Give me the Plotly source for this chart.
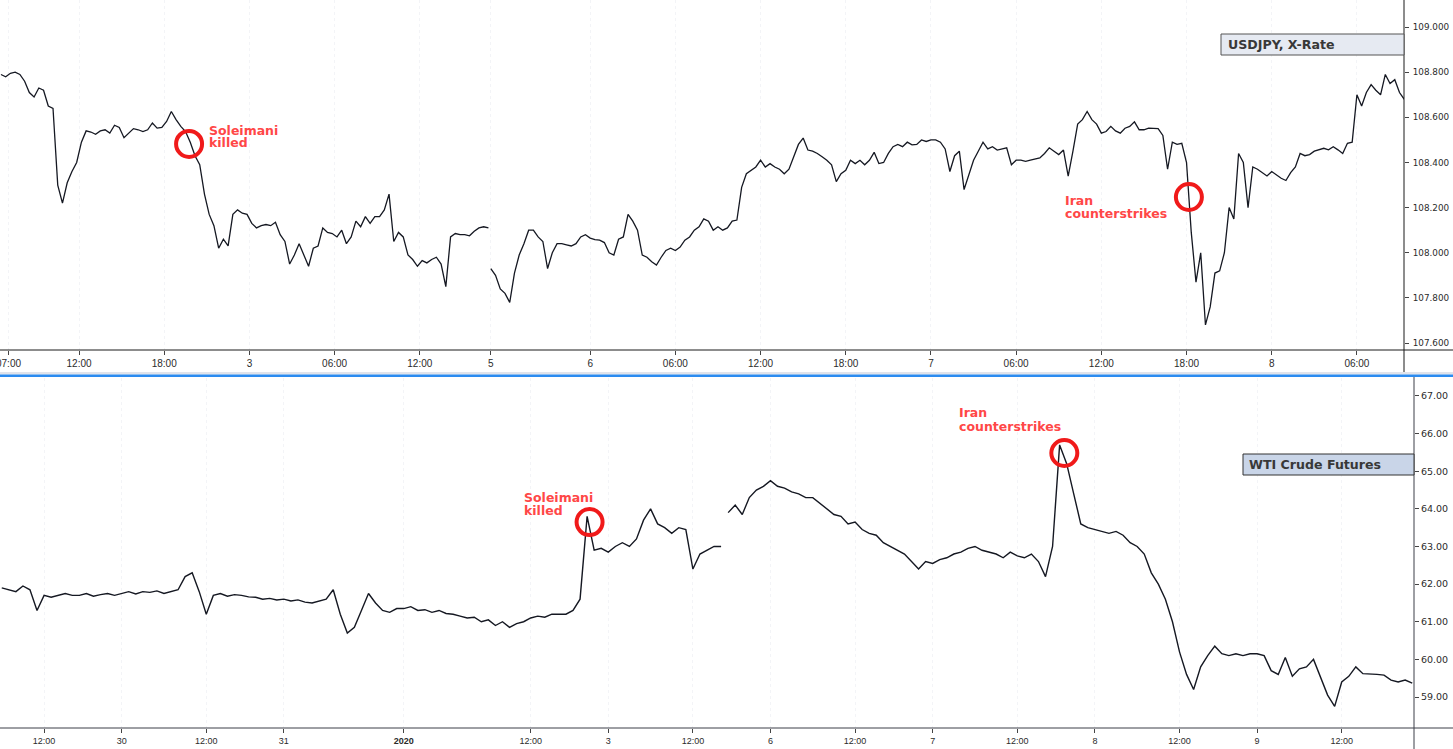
import pandas as pd
import plotly.graph_objects as go

W, H = 1453, 749

# ---------------- USDJPY (20-minute samples) ----------------
usdjpy_a_start = "2020-01-02 06:30"
usdjpy_a = [
    108.79, 108.78, 108.795, 108.80, 108.79, 108.76, 108.71, 108.69, 108.73, 108.72,
    108.65, 108.64, 108.30, 108.22, 108.31, 108.36, 108.40, 108.49, 108.54, 108.535,
    108.525, 108.54, 108.545, 108.53, 108.565, 108.555, 108.51, 108.53, 108.55, 108.545,
    108.537, 108.545, 108.575, 108.552, 108.555, 108.582, 108.626, 108.59, 108.56, 108.537,
    108.49, 108.43, 108.39, 108.26, 108.17, 108.12, 108.02, 108.06, 108.03, 108.17,
    108.19, 108.175, 108.17, 108.13, 108.11, 108.12, 108.125, 108.12, 108.135, 108.08,
    108.05, 107.95, 107.99, 108.04, 107.99, 107.94, 108.02, 108.03, 108.11, 108.09,
    108.085, 108.07, 108.10, 108.04, 108.07, 108.14, 108.115, 108.16, 108.13, 108.16,
    108.16, 108.19, 108.26, 108.05, 108.09, 108.07, 107.99, 107.97, 107.94, 107.965,
    107.955, 107.97, 107.98, 107.95, 107.85, 108.07, 108.085, 108.08, 108.08, 108.075,
    108.095, 108.11, 108.115, 108.11,
]
usdjpy_b_start = "2020-01-05 17:00"
usdjpy_b = [
    107.93, 107.90, 107.84, 107.82, 107.78, 107.91, 107.99, 108.04, 108.10, 108.10,
    108.07, 108.05, 107.93, 108.00, 108.04, 108.04, 108.035, 108.03, 108.04, 108.07,
    108.08, 108.065, 108.058, 108.056, 108.045, 108.00, 107.99, 108.06, 108.07, 108.17,
    108.14, 108.10, 107.99, 107.98, 107.96, 107.945, 107.98, 108.01, 108.02, 108.01,
    108.025, 108.056, 108.07, 108.10, 108.115, 108.15, 108.14, 108.10, 108.115, 108.10,
    108.11, 108.14, 108.145, 108.29, 108.35, 108.365, 108.38, 108.41, 108.38, 108.395,
    108.38, 108.37, 108.35, 108.37, 108.43, 108.48, 108.508, 108.455, 108.45, 108.44,
    108.425, 108.41, 108.39, 108.315, 108.35, 108.365, 108.41, 108.395, 108.41, 108.39,
    108.41, 108.445, 108.395, 108.40, 108.44, 108.47, 108.48, 108.47, 108.49, 108.478,
    108.48, 108.50, 108.493, 108.50, 108.50, 108.49, 108.46, 108.36, 108.43, 108.45,
    108.28, 108.34, 108.41, 108.45, 108.49, 108.46, 108.47, 108.455, 108.46, 108.465,
    108.39, 108.41, 108.41, 108.405, 108.41, 108.415, 108.42, 108.44, 108.465, 108.45,
    108.435, 108.455, 108.34, 108.45, 108.57, 108.59, 108.626, 108.59, 108.57, 108.53,
    108.537, 108.56, 108.54, 108.53, 108.552, 108.56, 108.58, 108.545, 108.545, 108.552,
    108.552, 108.55, 108.52, 108.37, 108.49, 108.48, 108.485, 108.40, 108.09, 107.87,
    108.00, 107.68, 107.76, 107.91, 107.92, 108.00, 108.20, 108.15, 108.44, 108.40,
    108.20, 108.38, 108.37, 108.355, 108.34, 108.36, 108.345, 108.33, 108.32, 108.355,
    108.38, 108.44, 108.43, 108.435, 108.45, 108.456, 108.463, 108.456, 108.47, 108.456,
    108.44, 108.485, 108.49, 108.70, 108.65, 108.71, 108.745, 108.72, 108.70, 108.79,
    108.75, 108.767, 108.71, 108.68,
]

# ---------------- WTI crude (hourly samples per session) ----------------
wti_dec27_start = "2019-12-27 06:00"
wti_dec27 = [61.9, 61.85, 61.8, 61.95, 61.85, 61.3, 61.7, 61.65, 61.7, 61.75, 61.7]
wti_dec30_start = "2019-12-29 18:00"
wti_dec30 = [61.7, 61.75, 61.68, 61.72, 61.75, 61.7, 61.76, 61.8, 61.74, 61.8, 61.78, 61.82,
             61.75, 61.8, 61.85, 62.2, 62.3, 61.8, 61.2, 61.7, 61.75, 61.68, 61.72]
wti_dec31_start = "2019-12-30 18:00"
wti_dec31 = [61.7, 61.66, 61.65, 61.6, 61.62, 61.58, 61.6, 61.55, 61.58, 61.52, 61.5, 61.55,
             61.6, 61.85, 61.2, 60.7, 60.85, 61.3, 61.75, 61.5, 61.3, 61.25, 61.35]
wti_jan2_start = "2020-01-01 18:00"
wti_jan2 = [61.35, 61.4, 61.3, 61.32, 61.25, 61.3, 61.22, 61.2, 61.15, 61.1, 61.12, 61.0,
            61.05, 60.9, 61.0, 60.85, 60.95, 61.0, 61.1, 61.15, 61.12, 61.2, 61.2]
wti_jan3_start = "2020-01-02 18:00"
wti_jan3 = [61.2, 61.3, 61.6, 63.8, 62.9, 62.95, 62.85, 63.0, 63.1, 63.0, 63.2, 63.7,
            64.0, 63.6, 63.5, 63.35, 63.5, 63.45, 62.4, 62.8, 62.9, 63.0, 63.0]
wti_jan6_start = "2020-01-05 18:00"
wti_jan6 = [63.9, 64.1, 63.85, 64.3, 64.5, 64.6, 64.75, 64.6, 64.55, 64.45, 64.4, 64.3,
            64.3, 64.15, 64.0, 63.85, 63.8, 63.6, 63.65, 63.45, 63.35, 63.3, 63.1]
wti_jan7_start = "2020-01-06 18:00"
wti_jan7 = [63.0, 62.9, 62.8, 62.6, 62.4, 62.6, 62.55, 62.65, 62.7, 62.8, 62.85, 62.95,
            63.0, 62.9, 62.85, 62.8, 62.7, 62.85, 62.75, 62.7, 62.8, 62.6, 62.2]
wti_jan8_start = "2020-01-07 18:00"
wti_jan8 = [63.0, 65.7, 65.2, 64.4, 63.6, 63.5, 63.45, 63.4, 63.35, 63.4, 63.3, 63.1,
            63.0, 62.8, 62.3, 62.0, 61.6, 61.0, 60.2, 59.6, 59.2, 59.8, 60.1]
wti_jan9_start = "2020-01-08 18:00"
wti_jan9 = [60.35, 60.15, 60.1, 60.15, 60.1, 60.15, 60.15, 60.1, 59.7, 59.6, 60.05, 59.55,
            59.75, 59.8, 60.0, 59.5, 59.05, 58.75, 59.4, 59.55, 59.8, 59.62, 59.62]
wti_jan10_start = "2020-01-09 18:00"
wti_jan10 = [59.6, 59.58, 59.45, 59.4, 59.45, 59.37]

# ---------------- axis ticks ----------------
top_tickvals = ["2020-01-02 07:00", "2020-01-02 12:00", "2020-01-02 18:00", "2020-01-03 00:00",
                "2020-01-03 06:00", "2020-01-03 12:00", "2020-01-05 17:00", "2020-01-06 00:00",
                "2020-01-06 06:00", "2020-01-06 12:00", "2020-01-06 18:00", "2020-01-07 00:00",
                "2020-01-07 06:00", "2020-01-07 12:00", "2020-01-07 18:00", "2020-01-08 00:00",
                "2020-01-08 06:00"]
top_ticktext = ["07:00", "12:00", "18:00", "3", "06:00", "12:00", "5", "6", "06:00", "12:00",
                "18:00", "7", "06:00", "12:00", "18:00", "8", "06:00"]
bot_tickvals = ["2019-12-27 12:00", "2019-12-30 00:00", "2019-12-30 12:00", "2019-12-31 00:00",
                "2020-01-01 18:00", "2020-01-02 12:00", "2020-01-03 00:00", "2020-01-03 12:00",
                "2020-01-06 00:00", "2020-01-06 12:00", "2020-01-07 00:00", "2020-01-07 12:00",
                "2020-01-08 00:00", "2020-01-08 12:00", "2020-01-09 00:00", "2020-01-09 12:00"]
bot_ticktext = ["12:00", "30", "12:00", "31", "<b>2020</b>", "12:00", "3", "12:00", "6", "12:00",
                "7", "12:00", "8", "12:00", "9", "12:00"]

# market closures (start of each closed period) for the WTI time axis
wti_weekend_closes = ["2019-12-27 17:00", "2020-01-03 17:00"]     # 49 h
wti_holiday_closes = ["2019-12-31 17:00"]                         # 25 h
wti_daily_closes = ["2019-12-30 17:00", "2020-01-02 17:00", "2020-01-06 17:00",
                    "2020-01-07 17:00", "2020-01-08 17:00", "2020-01-09 17:00"]  # 1 h

# events (time, value) marked by circles
top_events = [("2020-01-02 19:45", 108.482), ("2020-01-07 18:10", 108.247)]
bot_events = [("2020-01-02 21:21", 63.65), ("2020-01-07 19:40", 65.485)]

LINE = "#151822"
RED = "#f01a1a"
TXT_RED = "#ff4747"


def times(start, vals, freq):
    return list(pd.date_range(start, periods=len(vals), freq=freq))


fig = go.Figure()

for start, vals in [(usdjpy_a_start, usdjpy_a), (usdjpy_b_start, usdjpy_b)]:
    fig.add_trace(go.Scatter(x=times(start, vals, "20min"), y=vals, mode="lines",
                             line=dict(color=LINE, width=1.3), xaxis="x", yaxis="y",
                             showlegend=False, hoverinfo="skip"))

wti_part1 = [(wti_dec27_start, wti_dec27), (wti_dec30_start, wti_dec30), (wti_dec31_start, wti_dec31),
             (wti_jan2_start, wti_jan2), (wti_jan3_start, wti_jan3)]
wti_part2 = [(wti_jan6_start, wti_jan6), (wti_jan7_start, wti_jan7), (wti_jan8_start, wti_jan8),
             (wti_jan9_start, wti_jan9), (wti_jan10_start, wti_jan10)]
for part in (wti_part1, wti_part2):
    xs, ys = [], []
    for start, vals in part:
        xs += times(start, vals, "1h")
        ys += vals
    fig.add_trace(go.Scatter(x=xs, y=ys, mode="lines", line=dict(color=LINE, width=1.4),
                             xaxis="x2", yaxis="y2", showlegend=False, hoverinfo="skip"))

HOUR = 3600 * 1000
xtickfont = dict(family="Liberation Sans, Arial, sans-serif", size=10, color="#2b2b2b")
ytickfont = dict(family="DejaVu Sans, Verdana, sans-serif", size=8.8, color="#2b2b2b")

fig.update_layout(
    width=W, height=H, margin=dict(l=0, r=0, t=0, b=0, autoexpand=False), autosize=False,
    paper_bgcolor="white", plot_bgcolor="white", showlegend=False,
    xaxis=dict(domain=[0, 1404 / W], anchor="y",
               range=["2020-01-02 06:26", "2020-01-08 09:19"],
               rangebreaks=[dict(values=["2020-01-03 17:00"], dvalue=48 * HOUR)],
               tickmode="array", tickvals=top_tickvals, ticktext=top_ticktext,
               ticks="outside", ticklen=4, tickcolor="#444", tickfont=xtickfont,
               showgrid=True, gridcolor="#f3f4f7", griddash="dot", gridwidth=1,
               showline=False, zeroline=False, fixedrange=True),
    yaxis=dict(domain=[1 - 350 / H, 1], anchor="x", side="right",
               range=[107.569, 109.12], tick0=107.6, dtick=0.2, tickformat=".3f",
               ticks="outside", ticklen=4, tickcolor="#444", tickfont=ytickfont,
               ticklabelstandoff=2,
               showgrid=False, showline=False, zeroline=False, fixedrange=True),
    xaxis2=dict(domain=[0, 1414 / W], anchor="y2",
                range=["2019-12-27 05:45", "2020-01-09 23:15"],
                rangebreaks=[dict(values=wti_weekend_closes, dvalue=49 * HOUR),
                             dict(values=wti_holiday_closes, dvalue=25 * HOUR),
                             dict(values=wti_daily_closes, dvalue=1 * HOUR)],
                tickmode="array", tickvals=bot_tickvals, ticktext=bot_ticktext,
                ticks="outside", ticklen=4, tickcolor="#444",
                tickfont=dict(family="Liberation Sans, Arial, sans-serif", size=9, color="#2b2b2b"),
                showgrid=True, gridcolor="#f3f4f7", griddash="dot", gridwidth=1,
                showline=False, zeroline=False, fixedrange=True),
    yaxis2=dict(domain=[1 - 728 / H, 1 - 378 / H], anchor="x2", side="right",
                range=[58.176, 67.478], tick0=59, dtick=1, tickformat=".2f",
                ticks="outside", ticklen=4, tickcolor="#444",
                tickfont=dict(family="DejaVu Sans, Verdana, sans-serif", size=9.5, color="#2b2b2b"),
                showgrid=False, showline=False, zeroline=False, fixedrange=True),
)


def px(x):
    return x / W


def py(y):
    return 1 - y / H


shapes = [
    dict(type="line", xref="paper", yref="paper", x0=0, x1=1, y0=py(350), y1=py(350),
         line=dict(color="#1a1a1a", width=1)),
    dict(type="line", xref="paper", yref="paper", x0=px(1404), x1=px(1404), y0=py(0), y1=py(373),
         line=dict(color="#1a1a1a", width=1)),
    dict(type="rect", xref="paper", yref="paper", x0=0, x1=1, y0=py(374.5), y1=py(372),
         line=dict(width=0), fillcolor="#e0e3eb"),
    dict(type="rect", xref="paper", yref="paper", x0=0, x1=1, y0=py(377), y1=py(374.5),
         line=dict(width=0), fillcolor="#2b8bf0"),
    dict(type="line", xref="paper", yref="paper", x0=0, x1=1, y0=py(728), y1=py(728),
         line=dict(color="#3c3f48", width=1)),
    dict(type="line", xref="paper", yref="paper", x0=px(1414), x1=px(1414), y0=py(377), y1=py(749),
         line=dict(color="#3c3f48", width=1)),
    dict(type="rect", xref="paper", yref="paper", x0=px(1221), x1=px(1404), y0=py(55), y1=py(34),
         line=dict(color="#555", width=1), fillcolor="#e6eaf2"),
    dict(type="rect", xref="paper", yref="paper", x0=px(1243), x1=px(1414), y0=py(475), y1=py(454),
         line=dict(color="#333", width=1), fillcolor="#c9d5e8"),
]

for (t, v) in top_events:
    shapes.append(dict(type="circle", xref="x", yref="y", xsizemode="pixel", ysizemode="pixel",
                       xanchor=t, yanchor=v, x0=-13, x1=13, y0=-13, y1=13,
                       line=dict(color=RED, width=4)))
for (t, v) in bot_events:
    shapes.append(dict(type="circle", xref="x2", yref="y2", xsizemode="pixel", ysizemode="pixel",
                       xanchor=t, yanchor=v, x0=-13, x1=13, y0=-13, y1=13,
                       line=dict(color=RED, width=4)))

fig.update_layout(shapes=shapes)

afont = dict(family="DejaVu Sans, Verdana, sans-serif", size=12.5, color=TXT_RED)
ann = []


def label(xref, yref, ev, text, xs, ys):
    ann.append(dict(xref=xref, yref=yref, x=ev[0], y=ev[1], text="<b>%s</b>" % text,
                    showarrow=False, xanchor="left", yanchor="middle", xshift=xs, yshift=ys,
                    font=afont))


label("x", "y", top_events[0], "Soleimani", 18, 13)
label("x", "y", top_events[0], "killed", 18, 1)
label("x", "y", top_events[1], "Iran", -126, -3)
label("x", "y", top_events[1], "counterstrikes", -126, -16)
label("x2", "y2", bot_events[0], "Soleimani", -68, 25)
label("x2", "y2", bot_events[0], "killed", -68, 12)
label("x2", "y2", bot_events[1], "Iran", -107, 40)
label("x2", "y2", bot_events[1], "counterstrikes", -107, 26)

# first time label, partly cut at the left edge as in the original
ann.append(dict(xref="x", yref="paper", x=top_tickvals[0], y=py(363), text=top_ticktext[0],
                showarrow=False, xanchor="center", yanchor="middle", font=xtickfont))

boxfont = dict(family="DejaVu Sans, Verdana, sans-serif", size=12.6, color="#383838")
ann.append(dict(xref="paper", yref="paper", x=px(1226), y=py(44.5), text="<b>USDJPY, X-Rate</b>",
                showarrow=False, xanchor="left", yanchor="middle", font=boxfont))
ann.append(dict(xref="paper", yref="paper", x=px(1247), y=py(464.5), text="<b>WTI Crude Futures</b>",
                showarrow=False, xanchor="left", yanchor="middle", font=boxfont))
fig.update_layout(annotations=ann)

fig.write_html("out.html", config={"displayModeBar": False})
